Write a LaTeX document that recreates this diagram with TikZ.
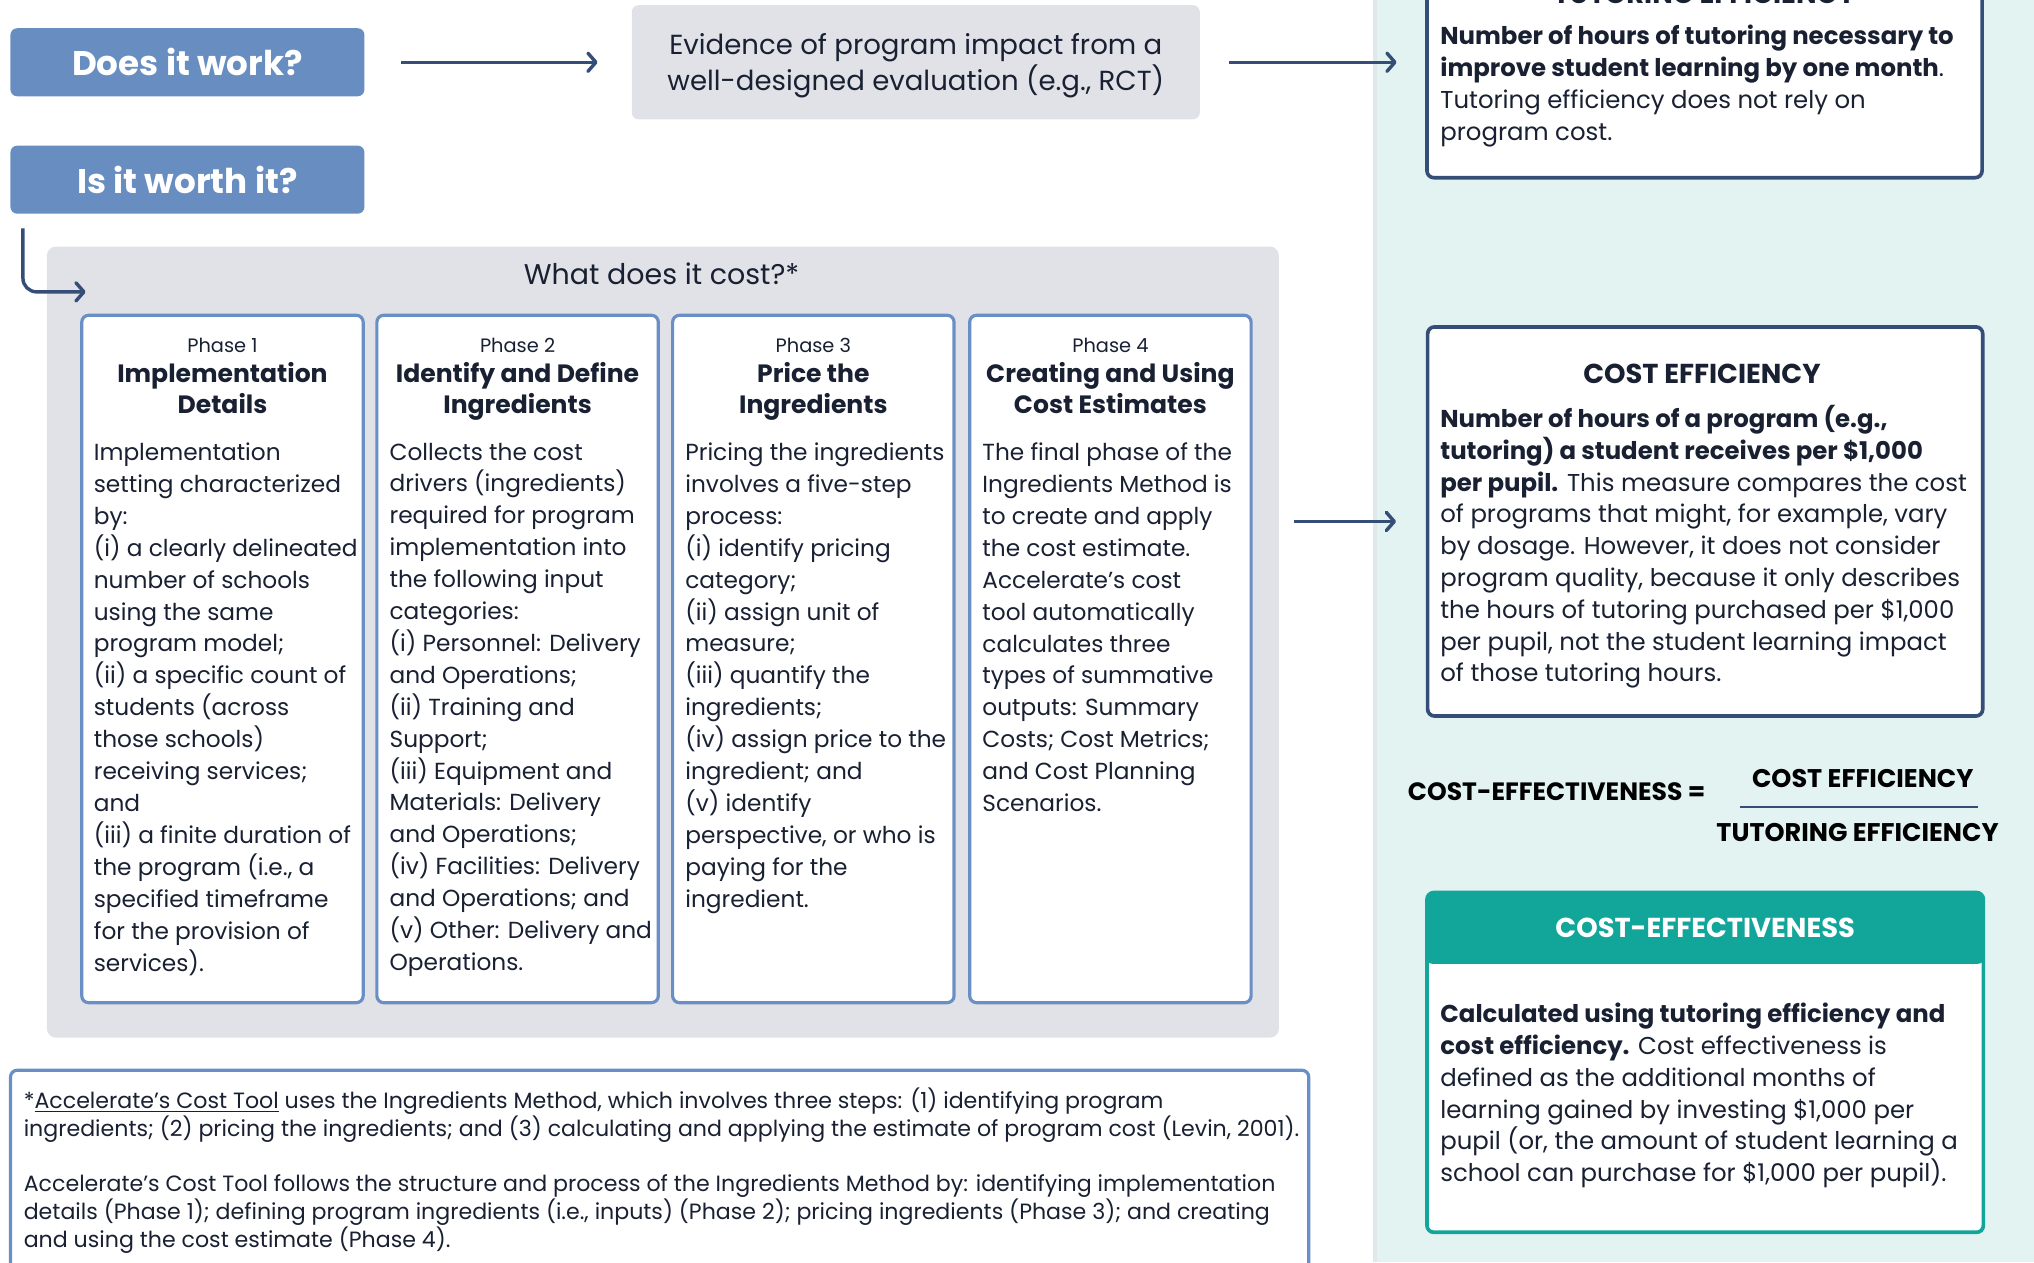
\documentclass[tikz,border=0pt]{standalone}
\usepackage{fontspec}
\setmainfont{Poppins}
\usepackage{tikz}
\usetikzlibrary{calc,shapes,arrows,arrows.meta,positioning}

\definecolor{qblue}{RGB}{104,142,193}
\definecolor{navy}{RGB}{52,78,120}
\definecolor{inkdark}{RGB}{24,32,50}
\definecolor{boxgrey}{RGB}{225,226,231}
\definecolor{panelteal}{RGB}{227,243,242}
\definecolor{paneledge}{RGB}{224,232,235}
\definecolor{ceteal}{RGB}{18,166,154}
\definecolor{phaseblue}{RGB}{106,143,196}

\tikzset{%
    question/.style={%
        rectangle, rounded corners=3pt, fill=qblue, text=white, minimum width=5.46cm, minimum height=1.05cm, font=\fontsize{15}{18}\selectfont\bfseries
    },
    evidence/.style={%
        rectangle, rounded corners=3pt, fill=boxgrey, minimum width=8.76cm, minimum height=1.76cm
    },
    evidence_text/.style={%
        align=center, inner sep=0pt, text=inkdark, font=\fontsize{12.1}{15.9}\selectfont
    },
    cost_area/.style={%
        rectangle, rounded corners=4pt, fill=boxgrey, minimum width=19cm, minimum height=12.2cm
    },
    area_label/.style={%
        text=inkdark, font=\fontsize{12.5}{14}\selectfont
    },
    phase_box/.style={%
        rectangle, rounded corners=3pt, draw=phaseblue, line width=1.4pt, fill=white, minimum width=4.34cm, minimum height=10.6cm
    },
    phase_num/.style={%
        text=inkdark, font=\fontsize{8.5}{10}\selectfont
    },
    phase_title/.style={%
        align=center, inner sep=0pt, text=inkdark, font=\fontsize{11}{13.6}\selectfont\bfseries
    },
    body/.style={%
        anchor=north west, inner sep=0pt, align=left, text=inkdark, font=\fontsize{10.2}{14}\selectfont
    },
    measure/.style={%
        rectangle, rounded corners=3pt, draw=navy, line width=1.6pt, fill=white, minimum width=8.56cm
    },
    measure_title/.style={%
        text=inkdark, font=\fontsize{12}{14}\selectfont\bfseries
    },
    measure_text/.style={%
        body, font=\fontsize{10.7}{13.95}\selectfont
    },
    ratio/.style={%
        text=black, inner sep=0pt, font=\fontsize{11}{13}\selectfont\bfseries
    },
    ceff_box/.style={%
        rectangle, rounded corners=3pt, draw=ceteal, line width=1.6pt, fill=white, minimum width=8.58cm, minimum height=5.24cm
    },
    ceff_head/.style={%
        rectangle, rounded corners=3pt, fill=ceteal, text=white, minimum width=8.62cm, minimum height=1.1cm, font=\fontsize{12}{14}\selectfont\bfseries
    },
    note_box/.style={%
        rectangle, rounded corners=3pt, draw=phaseblue, line width=1.4pt, fill=white, minimum width=20.02cm, minimum height=3.6cm
    },
    note_text/.style={%
        anchor=north west, inner sep=0pt, align=left, text=inkdark, font=\fontsize{9.7}{12.25}\selectfont
    },
    arrow/.style={%
        ->, >={Straight Barb[length=3.5pt,width=8pt,round]}, draw=navy, line width=1.5pt
    },
}

\begin{document}
\begin{tikzpicture}[x=0.02cm, y=-0.02cm]

    \useasboundingbox (0,0) rectangle (1568,973);
    \clip (0,0) rectangle (1568,973);

    % right-hand panel
    \fill[panelteal] (1059,0) rectangle (1568,973);
    \draw[paneledge, line width=1.5pt] (1060,0) -- (1060,973);

    \node[question] (does) at (144.5,48) {Does it work?};
    \node[question] (worth) at (144.5,138.5) {Is it worth it?};
    \node[evidence] (evidence) at (706,48) {};
    \node[evidence_text] (evidencetext) at (706,50.5) {Evidence of program impact from a\\well-designed evaluation (e.g., RCT)};

    \draw[arrow, shorten <=0.56cm, shorten >=0.52cm] (does.east) -- (evidence.west);

    % what does it cost
    \node[cost_area] (costarea) at (511,495) {};
    \node[area_label] (costq) at (510,211) {What does it cost?*};
    \coordinate (costin) at (66,225);
    \draw[arrow, rounded corners=6pt] (worth.south west) ++(10,11) |- (costin);

    \node[phase_box] (phase1) at (171.5,508) {};
    \node[phase_num] (phase1num) at (171.5,266) {Phase 1};
    \node[phase_title] (phase1title) at (171.5,302) {\strut Implementation\\Details\strut};
    \node[body] (phase1text) at (72,341) {Implementation\\setting characterized\\by:\\(i) a clearly delineated\\number of schools\\using the same\\program model;\\(ii) a specific count of\\students (across\\those schools)\\receiving services;\\and\\(iii) a finite duration of\\the program (i.e., a\\specified timeframe\\for the provision of\\services).};

    \node[phase_box] (phase2) at (399,508) {};
    \node[phase_num] (phase2num) at (399,266) {Phase 2};
    \node[phase_title] (phase2title) at (399,302) {\strut Identify and Define\\Ingredients\strut};
    \node[body] (phase2text) at (300,341) {Collects the cost\\drivers (ingredients)\\required for program\\implementation into\\the following input\\categories:\\(i) Personnel: Delivery\\and Operations;\\(ii) Training and\\Support;\\(iii) Equipment and\\Materials: Delivery\\and Operations;\\(iv) Facilities: Delivery\\and Operations; and\\(v) Other: Delivery and\\Operations.};

    \node[phase_box] (phase3) at (627,508) {};
    \node[phase_num] (phase3num) at (627,266) {Phase 3};
    \node[phase_title] (phase3title) at (627,302) {\strut Price the\\Ingredients\strut};
    \node[body] (phase3text) at (528,341) {Pricing the ingredients\\involves a five-step\\process:\\(i) identify pricing\\category;\\(ii) assign unit of\\measure;\\(iii) quantify the\\ingredients;\\(iv) assign price to the\\ingredient; and\\(v) identify\\perspective, or who is\\paying for the\\ingredient.};

    \node[phase_box] (phase4) at (856,508) {};
    \node[phase_num] (phase4num) at (856,266) {Phase 4};
    \node[phase_title] (phase4title) at (856,302) {\strut Creating and Using\\Cost Estimates\strut};
    \node[body] (phase4text) at (757,341) {The final phase of the\\Ingredients Method is\\to create and apply\\the cost estimate.\\Accelerate’s cost\\tool automatically\\calculates three\\types of summative\\outputs: Summary\\Costs; Cost Metrics;\\and Cost Planning\\Scenarios.};

    % efficiency measures
    \node[measure, minimum height=3.54cm] (tutoring) at (1314,48.5) {};
    \node[measure_title, anchor=base] (tutoringtitle) at (1314,3) {TUTORING EFFICIENCY};
    \node[measure_text] (tutoringtext) at (1110,19) {\textbf{Number of hours of tutoring necessary to}\\\textbf{improve student learning by one month}.\\Tutoring efficiency does not rely on\\program cost.};
    \draw[arrow, shorten <=0.44cm, shorten >=0.44cm] (evidence.east) -- (evidence.east -| tutoring.west);

    \node[measure, minimum height=6cm] (costeff) at (1314.5,402) {};
    \node[measure_title] (costefftitle) at (1312,288) {COST EFFICIENCY};
    \node[measure_text] (costefftext) at (1110,312) {\textbf{Number of hours of a program (e.g.,}\\\textbf{tutoring) a student receives per \$1,000}\\\textbf{per pupil.} This measure compares the cost\\of programs that might, for example, vary\\by dosage. However, it does not consider\\program quality, because it only describes\\the hours of tutoring purchased per \$1,000\\per pupil, not the student learning impact\\of those tutoring hours.};
    \draw[arrow, shorten <=0.22cm, shorten >=0.46cm] (costeff.west -| costarea.east) -- (costeff.west);

    \node[ratio] (ratio) at (1200,610) {COST-EFFECTIVENESS =};
    \node[ratio, font=\fontsize{11.2}{13}\selectfont\bfseries] (rationum) at (1436,600) {COST EFFICIENCY};
    \node[ratio, font=\fontsize{11.2}{13}\selectfont\bfseries] (ratioden) at (1432,642) {TUTORING EFFICIENCY};
    \draw[navy, line width=1pt] (1341,622) -- (1525,622);

    \node[ceff_box] (ceff) at (1314.5,819) {};
    \node[ceff_head] (ceffhead) at (1314.5,715.5) {COST-EFFECTIVENESS};
    \node[measure_text] (cefftext) at (1110,773) {\textbf{Calculated using tutoring efficiency and}\\\textbf{cost efficiency.} Cost effectiveness is\\defined as the additional months of\\learning gained by investing \$1,000 per\\pupil (or, the amount of student learning a\\school can purchase for \$1,000 per pupil).};

    % footnote
    \node[note_box] (note) at (508.5,915) {};
    \node[note_text] (notetext) at (18,838) {*\underline{Accelerate’s Cost Tool} uses the Ingredients Method, which involves three steps: (1) identifying program\\ingredients; (2) pricing the ingredients; and (3) calculating and applying the estimate of program cost (Levin, 2001).\\[12.25pt]Accelerate’s Cost Tool follows the structure and process of the Ingredients Method by: identifying implementation\\details (Phase 1); defining program ingredients (i.e., inputs) (Phase 2); pricing ingredients (Phase 3); and creating\\and using the cost estimate (Phase 4).};

\end{tikzpicture}
\end{document}
